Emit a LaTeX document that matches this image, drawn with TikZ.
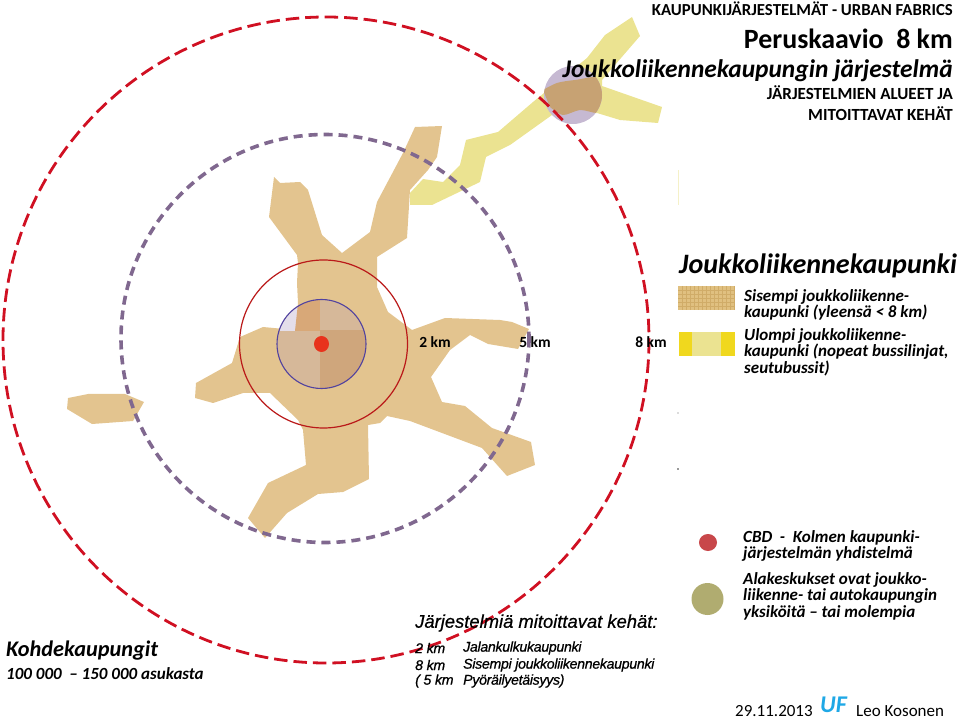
\documentclass[tikz,border=0pt]{standalone}
\usepackage{fontspec}
\setmainfont{Carlito}
\newfontfamily\ringfont[LetterSpace=-2.0, FakeBold=0.8]{Liberation Sans}
\newfontfamily\ringheadfont[FakeBold=0.6]{Liberation Sans}
\usepackage{tikz}
\usetikzlibrary{calc, positioning}

\definecolor{citybrown}{HTML}{E3C48F}
\definecolor{cityyellow}{HTML}{EBE391}
\definecolor{swatchbrown}{HTML}{E0C080}
\definecolor{swatchgrid}{HTML}{D0AC68}
\definecolor{swatchyellow}{HTML}{F0D81E}
\definecolor{ringpurple}{HTML}{80688F}
\definecolor{ringred}{HTML}{D01022}
\definecolor{subcentre}{HTML}{C6B9D2}
\definecolor{subbrown}{HTML}{C7A273}
\definecolor{ufblue}{HTML}{1FA8E6}
\definecolor{quadpale}{HTML}{E4DEEA}
\definecolor{quaddark}{HTML}{D8A878}
\definecolor{quadmid}{HTML}{D6B899}
\definecolor{quadlow}{HTML}{CFA67C}
\definecolor{cbdred}{HTML}{E8331C}
\definecolor{keyred}{HTML}{C8474A}
\definecolor{keyolive}{HTML}{B0AC70}

\tikzset{
    righthead/.style={anchor=east, inner sep=0pt},
    lefttext/.style={anchor=west, inner sep=0pt, align=left},
    legendtext/.style={lefttext, font=\fontsize{17}{16.6}\selectfont\bfseries\itshape},
    kmlabel/.style={inner sep=0pt, font=\fontsize{15.5}{16}\selectfont\bfseries},
    ringtext/.style={lefttext, font=\ringfont\fontsize{14.1}{16}\selectfont\itshape}
}

\begin{document}
\begin{tikzpicture}[x=1pt,y=-1pt]
        \useasboundingbox (0,0) rectangle (959,719);

        % 1. Outer yellow city
        \fill[cityyellow] (410,193) -- (423,179) -- (443,182) -- (460,165) -- (466,140) -- (498,132)
            -- (533,102) -- (587,58) -- (605,35) -- (632,17) -- (640,36) -- (602,80) -- (602,86)
            -- (662,107) -- (658,123) -- (620,120) -- (597,113) -- (552,115) -- (510,145) -- (486,157)
            -- (480,182) -- (432,205) -- (410,205) -- cycle;

        % 2. Subcentre on the yellow arm
        \coordinate (SubC) at (573,95);
        \fill[subcentre] (SubC) circle (29);
        \begin{scope}
            \clip (SubC) circle (29);
            \fill[subbrown] plot [smooth, tension=0.5] coordinates {
                (543,90) (557,83) (575,80) (604,78) (604,108) (597,113) (580,110) (563,115) (550,107)
            } -- cycle;
        \end{scope}

        % 3. Inner brown city
        \fill[citybrown] (415,127) -- (442,126) -- (437,157) -- (428,170) -- (410,190) -- (407,238)
            -- (377,257) -- (377,287) -- (388,312) -- (412,330) -- (445,318) -- (500,320) -- (512,322)
            -- (529,329) -- (518,349) -- (488,344) -- (470,335) -- (450,350) -- (431,377) -- (442,402)
            -- (465,406) -- (492,428) -- (531,442) -- (535,465) -- (507,476) -- (482,448) -- (410,421)
            -- (387,416) -- (380,423) -- (368,425) -- (369,479) -- (343,492) -- (318,494) -- (287,513)
            -- (265,538) -- (248,518) -- (268,483) -- (306,465) -- (303,430) -- (298,420) -- (270,393)
            -- (243,393) -- (213,403) -- (195,398) -- (196,383) -- (232,363) -- (240,337) -- (263,327)
            -- (295,330) -- (298,303) -- (297,283) -- (298,263) -- (297,255) -- (269,217) -- (274,177)
            -- (280,183) -- (300,182) -- (308,190) -- (322,235) -- (342,253) -- (370,232) -- (377,202)
            -- (403,153) -- cycle;
        \fill[citybrown] (68,398) -- (88,394) -- (125,394) -- (144,402) -- (133,421) -- (92,424)
            -- (67,409) -- cycle;

        % 4. Centre quadrants
        \coordinate (Cbd) at (321.5,344);
        \begin{scope}
            \clip (Cbd) circle (44.5);
            \fill[quadpale] (270,295) rectangle (320,331);
            \fill[quaddark] (298,303) -- (295,331) -- (320,331) -- (320,295) -- (298,295) -- cycle;
            \fill[quadmid] (320,295) rectangle (370,330);
            \fill[quadmid] (270,331) rectangle (320,395);
            \fill[quadlow] (320,330) rectangle (370,395);
        \end{scope}

        % 5. Rings
        \draw[red!70!black!90, line width=1.2pt] (323.5,344) circle (84);
        \draw[ringpurple!70!blue!90!black, line width=1.1pt] (Cbd) circle (44.5);
        \fill[cbdred] (Cbd) ellipse (7.5 and 8);
        \draw[ringpurple, line width=3.6pt, dash pattern=on 9pt off 6pt] (325,338.5) circle (204);
        \draw[ringred, line width=2.8pt, dash pattern=on 13.5pt off 6pt] (326,340) circle (323);

        % 6. Ring distances
        \node[kmlabel] (Km2) at (435,342) {2 km};
        \node[kmlabel] (Km5) at (535,342) {5 km};
        \node[kmlabel] (Km8) at (651,342) {8 km};

        % 7. Header
        \node[righthead, font=\fontsize{16.8}{18}\selectfont\bfseries] (TitleA) at (953,9) {KAUPUNKIJÄRJESTELMÄT - URBAN FABRICS};
        \node[righthead, font=\fontsize{27.9}{30}\selectfont\bfseries] (TitleB) at (953,38.5) {Peruskaavio~ 8 km};
        \node[righthead, font=\fontsize{25.4}{28}\selectfont\bfseries\itshape] (TitleC) at (953,70.5) {Joukkoliikennekaupungin järjestelmä};
        \node[righthead, font=\fontsize{17}{18}\selectfont\bfseries] (TitleD) at (953,93) {JÄRJESTELMIEN ALUEET JA};
        \node[righthead, font=\fontsize{17}{18}\selectfont\bfseries] (TitleE) at (953,114) {MITOITTAVAT KEHÄT};

        % 8. Legend
        \node[lefttext, font=\fontsize{28.1}{30}\selectfont\bfseries\itshape] (LegendHead) at (679,266) {Joukkoliikennekaupunki};
        \fill[swatchbrown] (678,286) rectangle (735,310);
        \foreach \i in {1,...,14} {
            \draw[swatchgrid, line width=0.4pt] (678+4*\i,286) -- (678+4*\i,310);
        }
        \foreach \i in {1,...,5} {
            \draw[swatchgrid, line width=0.4pt] (678,286+4*\i) -- (735,286+4*\i);
        }
        \fill[swatchyellow] (679,332) rectangle (735,356);
        \fill[cityyellow] (692,332) rectangle (721,356);
        \node[legendtext] (LegendInner) at (744,305) {Sisempi joukkoliikenne-\\kaupunki (yleensä < 8 km)};
        \node[legendtext] (LegendOuter) at (744,352) {Ulompi joukkoliikenne-\\kaupunki (nopeat bussilinjat,\\seutubussit)};
        \fill[keyred] (708,542.5) ellipse (9 and 8.5);
        \fill[keyolive] (707.5,599) circle (16);
        \node[legendtext] (LegendCbd) at (743,546) {CBD~ -~ Kolmen kaupunki-\\järjestelmän yhdistelmä};
        \node[legendtext] (LegendSub) at (743,596) {Alakeskukset ovat joukko-\\liikenne- tai autokaupungin\\yksiköitä – tai molempia};

        % 9. Bottom left
        \node[lefttext, font=\fontsize{22.3}{24}\selectfont\bfseries\itshape] (TargetHead) at (6,651) {Kohdekaupungit};
        \node[lefttext, font=\fontsize{17}{20}\selectfont\bfseries\itshape] (TargetSize) at (6,674) {100 000~ -- 150 000 asukasta};

        % 10. Measured rings
        \node[lefttext, font=\ringheadfont\fontsize{18.4}{20}\selectfont\itshape] (RingHead) at (415,623) {Järjestelmiä mitoittavat kehät:};
        \node[ringtext] (RingKmA) at (415,648) {2 km};
        \node[ringtext] (RingKmB) at (415,665) {8 km};
        \node[ringtext] (RingKmC) at (415,681) {( 5 km};
        \node[ringtext] (RingNameA) at (463,648) {Jalankulkukaupunki};
        \node[ringtext] (RingNameB) at (463,665) {Sisempi joukkoliikennekaupunki};
        \node[ringtext] (RingNameC) at (463,681) {Pyöräilyetäisyys)};

        % 11. Date and signature
        \node[lefttext, font=\fontsize{17}{20}\selectfont] (Date) at (735,711) {29.11.2013};
        \node[lefttext, text=ufblue, font=\fontsize{24}{28}\selectfont\bfseries\itshape] (Uf) at (820,705) {UF};
        \node[lefttext, font=\fontsize{17}{20}\selectfont] (Author) at (856,711) {Leo Kosonen};

        % 12. Specks at the cut edge
        \fill[cityyellow!50] (677.5,170) rectangle (678.5,205);
        \fill[black!60] (678,413) circle (0.7);
        \fill[black!80] (678,469) circle (0.8);
    \end{tikzpicture}
\end{document}
